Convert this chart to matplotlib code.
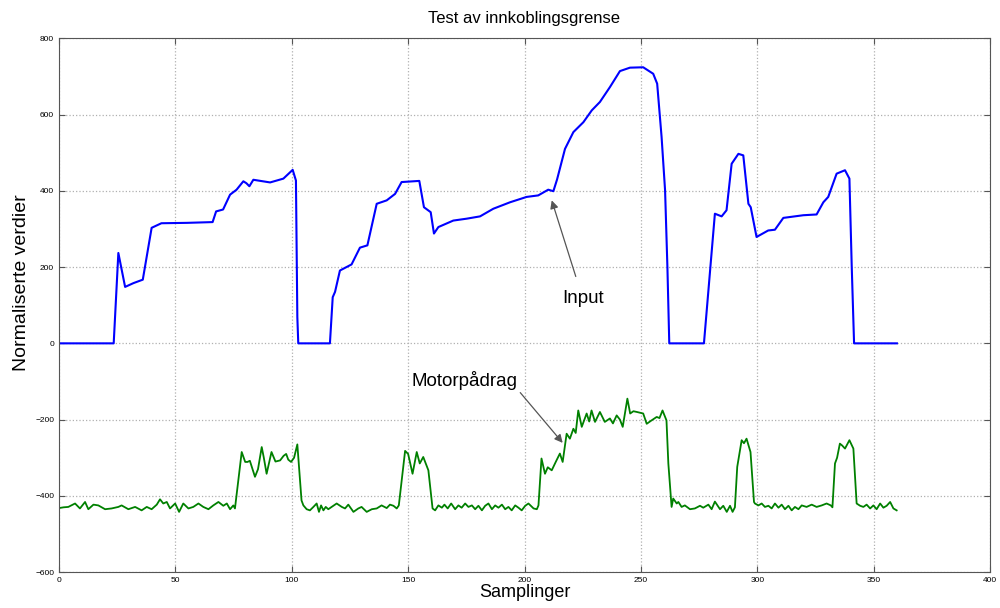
"""
Test av innkoblingsgrense - input og motorpådrag over samplinger
"""
import matplotlib
matplotlib.use("Agg")
import matplotlib.pyplot as plt

plt.rcParams['font.family'] = ['Liberation Sans', 'DejaVu Sans']

# Input (normalisert), avlest fra figur
input_x = [0, 23.5, 25.5, 28.4, 32, 36, 39.8, 44, 55, 66, 67.5, 70.5, 73.5, 76.3, 79.2, 80.5, 81.8,
           83.5, 90.7, 96.4, 100.4, 101.8, 102.4, 102.8, 116.4, 117.6, 118.6, 120.7, 125.7, 129.3,
           132.5, 136.5, 140.8, 144.4, 147.2, 154.8, 156.8, 159.7, 161.1, 163, 169.4, 175.2, 180.9,
           186.6, 193.8, 200.9, 205.9, 210.2, 212.4, 214, 217.4, 221, 225.3, 228.9, 232.4, 236.7,
           241, 245.3, 251, 255.3, 257, 258.9, 260.4, 261.4, 262.2, 277.1, 281.8, 284.7, 286.8,
           289, 291.9, 294, 296.2, 297.2, 299.7, 304.7, 307.6, 311.2, 319.8, 325.5, 328.4, 330.5,
           334.1, 337.7, 339.6, 340.6, 341.6, 360]
input_y = [0, 0, 237, 148, 158, 167, 303, 315, 316, 318, 346, 351, 390, 403, 425, 420, 412,
           429, 422, 432, 455, 427, 69, 0, 0, 121, 135, 191, 207, 251,
           257, 366, 375, 392, 423, 426, 357, 344, 288, 305, 322, 327, 333,
           353, 370, 384, 388, 403, 399, 430, 510, 554, 580, 611, 633, 672,
           714, 723, 724, 707, 681, 541, 401, 200, 0, 0, 340, 333, 349,
           471, 497, 493, 366, 357, 279, 296, 298, 329, 336, 338, 370, 384,
           445, 454, 432, 200, 0, 0]

# Motorpådrag (normalisert)
motor_x = [0, 2, 4, 6.9, 9, 11.2, 12.6, 14.8, 16.9, 19.8, 22.6, 25.5, 26.9, 29.8, 32.7, 35.5,
           37.7, 39.8, 42, 43.4, 44.8, 46.3, 47.7, 49.9, 51.6, 53.4, 55.6, 57.7, 59.9, 62, 64.2,
           66.3, 68.5, 70.6, 72.1, 73.5, 74.9, 75.6,
           78.5, 80, 81, 82, 84.2, 85.5, 87.1, 88, 89.2, 91.3, 93, 95, 96.5, 97.6, 98.5, 99.7,
           101, 102.4, 104.2, 105,
           106.4, 107.8, 109.3, 110.7, 111.7, 112.6, 113.6, 114.6, 115.7, 117.9, 119.3, 121.5,
           122.9, 124.3, 126.5, 128.6, 130, 132.2, 134.4, 136.5, 138.6, 140.8, 142.2, 143.7,
           145.1, 146,
           148.7, 150, 151.9, 153.7, 155, 156.5, 158.7, 160.5,
           161.6, 163, 164.5, 165.6, 167, 168.5, 170.2, 171.6, 173, 174.5, 175.9, 177.4, 178.8,
           180.2, 181.7, 183.1, 184.5, 186, 187.4, 188.8, 190.3, 191.7, 193.1, 194.5, 196, 197.4,
           198.8, 200.3, 201.7, 203.9, 205.3, 206,
           207.3, 208.8, 210, 211.7, 213.5, 215.2, 216.4, 218.1, 219.5, 221, 222, 223.1, 224.6,
           226.7, 227.8, 228.8, 230.3, 232.4, 234.5, 236.7, 238, 239.6, 241, 242.2, 244.2, 245.4,
           246.8, 248.3, 251, 252.5, 254.6, 256.8, 258, 259.3, 261, 261.8, 263.2, 263.9,
           264.6, 265.4, 266.1, 267.5, 268.9, 271.1, 273.2, 275.4, 276.8, 279, 280.4, 281.8, 284,
           285.4, 286.9, 288.3, 289.4, 290.4,
           291.4, 293.3, 294.3, 295.4, 297.1, 298.6,
           299, 300.5, 301.9, 303.3, 304.8, 306.2, 307.6, 309.1, 310.5, 311.9, 313.4, 314.8,
           316.2, 317.7, 319.1, 321.2, 323.4, 325.5, 327.7, 329.8, 331.6, 332.3,
           333.4, 334.3, 335.5, 336.5, 337.7, 339.6, 341.3, 342.7,
           344.2, 345.6, 347, 348.5, 349.9, 351.3, 352.8, 354.2, 355.6, 357.1, 358.5, 359.9]
motor_y = [-432, -430, -429, -420, -433, -416, -435, -423, -425, -435, -433, -429, -425, -435, -429, -438,
           -429, -435, -423, -409, -420, -416, -433, -420, -442, -420, -433, -429, -420, -429, -435,
           -425, -416, -426, -420, -435, -425, -433,
           -285, -311, -311, -308, -350, -330, -272, -300, -342, -285, -310, -307, -295, -290, -305, -311,
           -300, -265, -412, -425,
           -435, -438, -429, -420, -442, -425, -438, -429, -435, -426, -420, -429,
           -433, -423, -442, -433, -429, -442, -435, -433, -425, -432, -423, -426,
           -433, -425,
           -282, -290, -342, -285, -315, -298, -333, -433,
           -438, -425, -431, -423, -433, -420, -435, -425, -431, -420, -429, -425, -435,
           -426, -438, -426, -420, -435, -425, -431, -423, -435, -429, -438, -425, -431,
           -438, -426, -420, -433, -435, -425,
           -302, -342, -325, -333, -310, -289, -311, -237, -250, -224, -235, -176, -219,
           -184, -205, -176, -206, -180, -206, -197, -210, -189, -200, -219, -145, -184,
           -178, -180, -184, -211, -202, -193, -196, -176, -202, -315, -429, -407,
           -413, -420, -416, -429, -425, -435, -433, -426, -431, -423, -435, -415, -435,
           -426, -442, -426, -442, -430,
           -324, -254, -262, -250, -285, -416,
           -420, -425, -420, -429, -426, -433, -420, -431, -423, -435, -426, -438,
           -429, -435, -425, -429, -423, -429, -425, -420, -425, -430,
           -315, -300, -263, -268, -276, -254, -276, -420,
           -426, -429, -423, -433, -425, -435, -420, -431, -426, -416, -433, -438]

fig = plt.figure(figsize=(10, 6.08), dpi=100)
ax = fig.add_axes([0.059, 0.059, 0.931, 0.878])

ax.plot(input_x, input_y, color=(0, 0, 1), lw=1.5)
ax.plot(motor_x, motor_y, color=(0, 0.5, 0), lw=1.3)

ax.set_xlim(0, 400)
ax.set_ylim(-600, 800)
ax.set_xticks(range(0, 401, 50))
ax.set_yticks(range(-600, 801, 200))
ax.grid(True, linestyle=':', color='#b0b0b0', linewidth=0.9)
ax.tick_params(direction='in', labelsize=6, top=True, right=True, length=4, color='#555555')
for s in ax.spines.values():
    s.set_color('#555555')

ax.set_title('Test av innkoblingsgrense', fontsize=12, pad=11)
ax.set_xlabel('Samplinger', fontsize=13, labelpad=0)
ax.set_ylabel('Normaliserte verdier', fontsize=14)
ax.yaxis.set_label_coords(-0.031, 0.543)

ax.annotate('Input', xy=(211.7, 375), xytext=(225, 118), fontsize=13.5,
            ha='center', va='center',
            arrowprops=dict(arrowstyle='-|>', color='#555555', lw=0.9, shrinkA=8, shrinkB=0,
                            mutation_scale=12))
ax.annotate('Motorpådrag', xy=(216.4, -261), xytext=(174.4, -97), fontsize=13.5,
            ha='center', va='center',
            arrowprops=dict(arrowstyle='-|>', color='#555555', lw=0.9, shrinkA=0, shrinkB=0,
                            mutation_scale=12, relpos=(1.0, 0.0)))

plt.savefig('out.png', dpi=100)
